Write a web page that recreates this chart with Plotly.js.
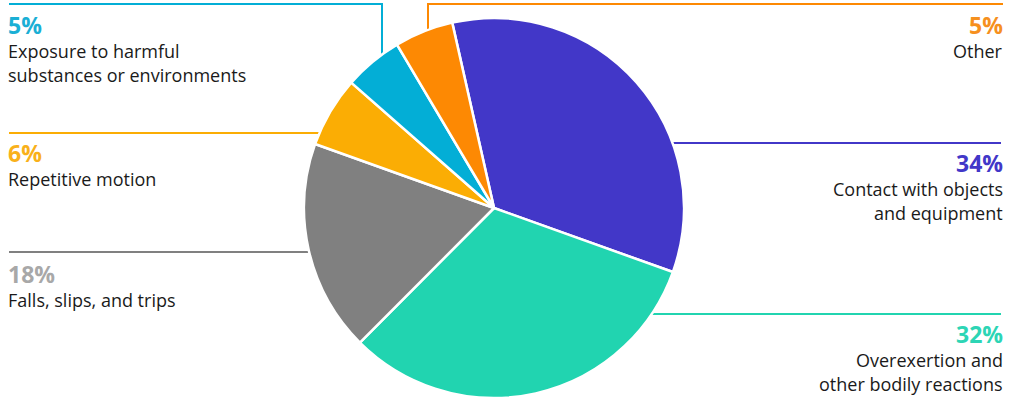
<!DOCTYPE html>
<html>
<head>
<meta charset="utf-8">
<script src="https://cdn.plot.ly/plotly-3.0.1.min.js"></script>
<style>
  html, body { margin: 0; padding: 0; background: #fff; }
  #chart { width: 1024px; height: 400px; }
</style>
</head>
<body>
<div id="chart"></div>
<script>
/* ── Data ─────────────────────────────────────────────────── */
const categories = [
  'Contact with objects and equipment',
  'Overexertion and other bodily reactions',
  'Falls, slips, and trips',
  'Repetitive motion',
  'Exposure to harmful substances or environments',
  'Other'
];
const shares = [34, 32, 18, 6, 5, 5];
const labelLines = [
  ['Contact with objects', 'and equipment'],
  ['Overexertion and', 'other bodily reactions'],
  ['Falls, slips, and trips'],
  ['Repetitive motion'],
  ['Exposure to harmful', 'substances or environments'],
  ['Other']
];

/* ── Styling ──────────────────────────────────────────────── */
const sliceColors = ['#4237c8', '#21d4b0', '#808080', '#fbad04', '#03aed6', '#fd8903'];
const pctColors   = ['#4237c8', '#2dd5b5', '#a8a8a8', '#f9b11a', '#1aafd5', '#f6901e'];
const W = 1024, H = 400;
const px = x => x / W;
const py = y => 1 - y / H;

// label block placement: x, y of percent centre, side, leader path
const blocks = [
  { x: 1005, y: 163, side: 'right', path: [[1001, 143], [672, 143]] },
  { x: 1005, y: 334, side: 'right', path: [[1001, 314], [651, 314]] },
  { x: 6,    y: 274, side: 'left',  path: [[9, 252], [309, 252]] },
  { x: 6,    y: 153, side: 'left',  path: [[9, 133], [320, 133]] },
  { x: 6,    y: 25,  side: 'left',  path: [[9, 4], [382, 4], [382, 55]] },
  { x: 1005, y: 25,  side: 'right', path: [[1003, 4], [428, 4], [428, 31]] }
];

/* ── Pie ──────────────────────────────────────────────────── */
const trace = {
  type: 'pie',
  labels: categories,
  values: shares,
  sort: false,
  direction: 'clockwise',
  rotation: -12.7,
  textinfo: 'none',
  hoverinfo: 'label+percent',
  marker: { colors: sliceColors, line: { color: '#ffffff', width: 2.5 } },
  domain: { x: [px(304), px(684)], y: [py(398), py(18)] },
  showlegend: false
};

/* ── Labels and leader lines ─────────────────────────────── */
const annotations = [];
const shapes = [];
blocks.forEach((b, i) => {
  const anchor = b.side;
  annotations.push({
    xref: 'paper', yref: 'paper', x: px(b.x), y: py(b.y),
    xanchor: anchor, yanchor: 'middle', showarrow: false,
    text: '<b>' + shares[i] + '%</b>',
    font: { family: 'Open Sans, sans-serif', size: 23, color: pctColors[i] }
  });
  labelLines[i].forEach((line, j) => {
    annotations.push({
      xref: 'paper', yref: 'paper', x: px(b.x), y: py(b.y + 26 + j * 24),
      xanchor: anchor, yanchor: 'middle', showarrow: false,
      text: line,
      font: { family: 'Open Sans, sans-serif', size: 18, color: '#1a1a1a' }
    });
  });
  const d = b.path.map((p, k) => (k ? 'L' : 'M') + px(p[0]) + ',' + py(p[1])).join(' ');
  shapes.push({
    type: 'path', xref: 'paper', yref: 'paper', path: d, layer: 'below',
    line: { color: sliceColors[i], width: 2 }
  });
});

const layout = {
  width: W, height: H,
  margin: { l: 0, r: 0, t: 0, b: 0 },
  paper_bgcolor: '#ffffff',
  plot_bgcolor: '#ffffff',
  annotations: annotations,
  shapes: shapes
};

Plotly.newPlot('chart', [trace], layout, { displayModeBar: false, staticPlot: true });
</script>
</body>
</html>
